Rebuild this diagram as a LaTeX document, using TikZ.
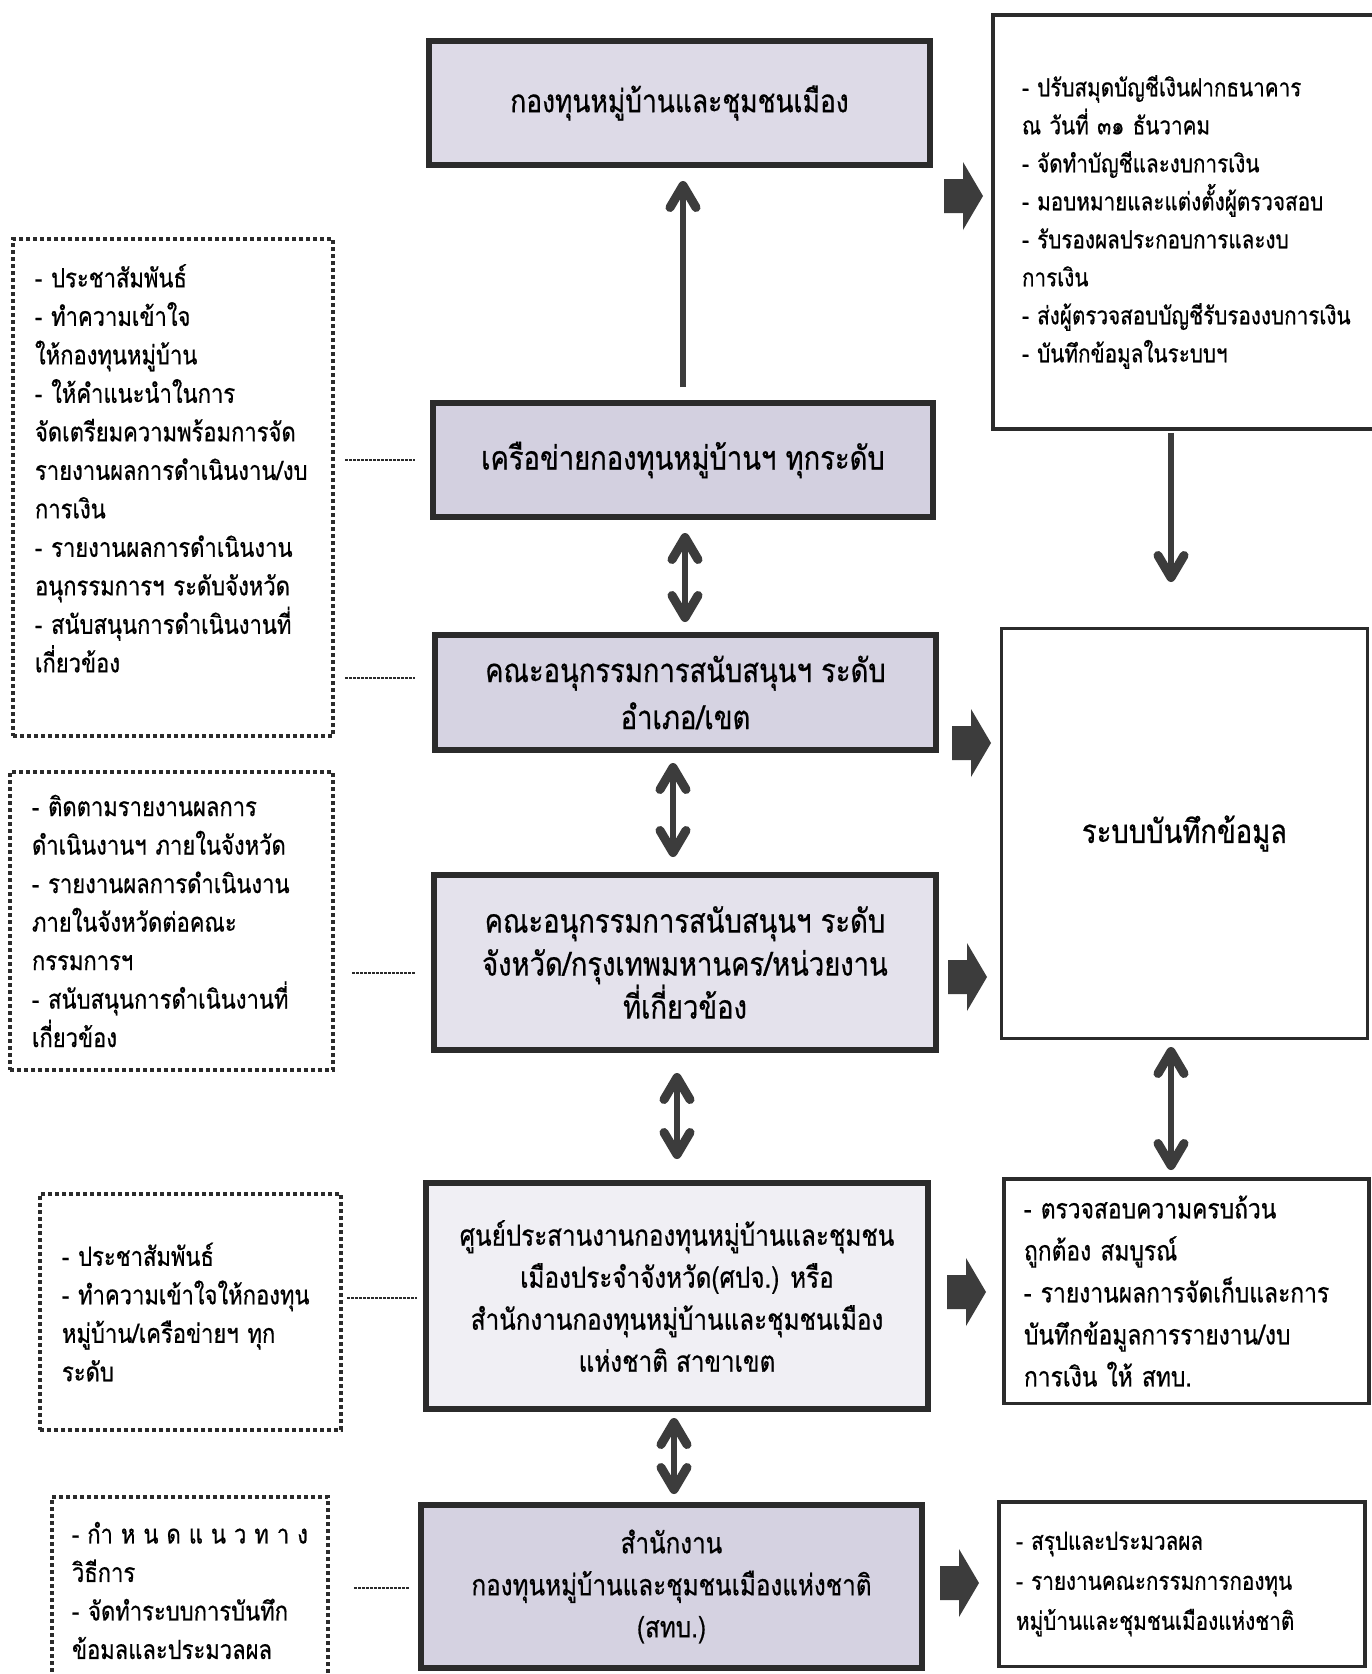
\documentclass[tikz,border=0pt]{standalone}
\usepackage{fontspec}
\setmainfont[Script=Thai, FakeStretch=0.83, FakeBold=0.6]{Loma}
\usetikzlibrary{arrows.meta,calc}
\definecolor{bordc}{HTML}{2B2B2B}
\definecolor{arrc}{HTML}{3C3C3C}
\definecolor{fillA}{HTML}{DDDAE7}
\definecolor{fillB}{HTML}{D3D0E0}
\definecolor{fillC}{HTML}{D6D3E2}
\definecolor{fillD}{HTML}{E4E2EC}
\definecolor{fillE}{HTML}{F0EFF4}
\definecolor{fillF}{HTML}{D5D2E1}
\newcommand\FMain{\fontsize{33}{43}\selectfont}
\newcommand\FMainS{\fontsize{29.2}{42}\selectfont}
\newcommand\FSide{\fontsize{26.5}{38.5}\selectfont}
\newcommand\FRight{\fontsize{24.9}{38}\selectfont}
\newcommand\blkarrow[2]{\fill[arrc] (#1,#2) -- ++(0,-17) -- ++(19,0) -- ++(0,-17) -- ++(20,34) -- ++(-20,34) -- ++(0,-17) -- ++(-19,0) -- cycle;}
\begin{document}
\begin{tikzpicture}[x=1pt,y=-1pt,
  >={Straight Barb[length=22pt, width=26pt, line width=9pt, round]},
  mainbox/.style={draw=bordc, line width=6pt, align=center, font=\FMain, inner sep=0pt},
  rbox/.style={draw=bordc, line width=3.5pt, fill=white, align=left, font=\FRight, inner ysep=0pt},
  dotbox/.style={draw=bordc, line width=4pt, dash pattern=on 4pt off 3pt, fill=white, align=left, font=\FSide, inner ysep=0pt},
  arr/.style={draw=arrc, line width=5.5pt},
  dotconn/.style={draw=bordc, line width=2.5pt, dash pattern=on 2.5pt off 1.5pt}
]
\useasboundingbox (0,0) rectangle (1372,1674);
\fill[white] (0,0) rectangle (1372,1674);

% main column
\node[mainbox, fill=fillA, minimum width=501pt, minimum height=124pt, font=\fontsize{31.8}{43}\selectfont] (b1) at (679.5,103) {กองทุนหมู่บ้านและชุมชนเมือง};
\node[mainbox, fill=fillB, minimum width=500pt, minimum height=114pt] (b2) at (683,460) {เครือข่ายกองทุนหมู่บ้านฯ ทุกระดับ};
\node[mainbox, fill=fillC, minimum width=501pt, minimum height=115pt, font=\fontsize{33}{47}\selectfont] (b3) at (685.5,692.5) {คณะอนุกรรมการสนับสนุนฯ ระดับ\\อำเภอ/เขต};
\node[mainbox, fill=fillD, minimum width=502pt, minimum height=175pt] (b4) at (685,962.5) {คณะอนุกรรมการสนับสนุนฯ ระดับ\\จังหวัด/กรุงเทพมหานคร/หน่วยงาน\\ที่เกี่ยวข้อง};
\node[mainbox, fill=fillE, minimum width=502pt, minimum height=226pt, font=\FMainS] (b5) at (677,1296) {ศูนย์ประสานงานกองทุนหมู่บ้านและชุมชน\\เมืองประจำจังหวัด(ศปจ.) หรือ\\สำนักงานกองทุนหมู่บ้านและชุมชนเมือง\\แห่งชาติ สาขาเขต};
\node[mainbox, fill=fillF, minimum width=501pt, minimum height=163pt, font=\FMainS] (b6) at (671.5,1586.5) {สำนักงาน\\กองทุนหมู่บ้านและชุมชนเมืองแห่งชาติ\\(สทบ.)};

% right column
\node[rbox, minimum height=414pt, text width=347pt, inner xsep=29pt] (r1) at (1195.5,222) {- ปรับสมุดบัญชีเงินฝากธนาคาร\\ณ วันที่ ๓๑ ธันวาคม\\- จัดทำบัญชีและงบการเงิน\\- มอบหมายและแต่งตั้งผู้ตรวจสอบ\\- รับรองผลประกอบการและงบ\\การเงิน\\- ส่งผู้ตรวจสอบบัญชีรับรองงบการเงิน\\- บันทึกข้อมูลในระบบฯ};
\node[draw=bordc, line width=3pt, fill=white, font=\FMain, minimum width=366pt, minimum height=410pt] (big) at (1184.5,833.5) {ระบบบันทึกข้อมูล};
\node[rbox, minimum height=224.5pt, text width=325pt, inner xsep=20pt, font=\fontsize{27.5}{42}\selectfont] (r5) at (1186.5,1291) {- ตรวจสอบความครบถ้วน\\ถูกต้อง สมบูรณ์\\- รายงานผลการจัดเก็บและการ\\บันทึกข้อมูลการรายงาน/งบ\\การเงิน ให้ สทบ.};
\node[rbox, minimum height=164.5pt, text width=332pt, inner xsep=17pt, font=\fontsize{24.9}{40}\selectfont] (r6) at (1182,1584) {- สรุปและประมวลผล\\- รายงานคณะกรรมการกองทุน\\หมู่บ้านและชุมชนเมืองแห่งชาติ};

% left column
\node[dotbox, minimum height=497pt, text width=276pt, inner xsep=22pt] (l1) at (173,487.5) {- ประชาสัมพันธ์\\- ทำความเข้าใจ\\ให้กองทุนหมู่บ้าน\\- ให้คำแนะนำในการ\\จัดเตรียมความพร้อมการจัด\\รายงานผลการดำเนินงาน/งบ\\การเงิน\\- รายงานผลการดำเนินงาน\\อนุกรรมการฯ ระดับจังหวัด\\- สนับสนุนการดำเนินงานที่\\เกี่ยวข้อง\\\mbox{}};
\node[dotbox, minimum height=298pt, text width=279pt, inner xsep=22pt] (l2) at (171.5,921) {- ติดตามรายงานผลการ\\ดำเนินงานฯ ภายในจังหวัด\\- รายงานผลการดำเนินงาน\\ภายในจังหวัดต่อคณะ\\กรรมการฯ\\- สนับสนุนการดำเนินงานที่\\เกี่ยวข้อง};
\node[dotbox, minimum height=236pt, text width=257pt, inner xsep=22pt] (l3) at (190.5,1312) {- ประชาสัมพันธ์\\- ทำความเข้าใจให้กองทุน\\หมู่บ้าน/เครือข่ายฯ ทุก\\ระดับ};
\node[dotbox, minimum height=187pt, text width=236pt, inner xsep=20pt] (l4) at (190,1590.5) {\makebox[\linewidth][s]{-\hfill กำ\hfill ห\hfill น\hfill ด\hfill แ\hfill น\hfill ว\hfill ท\hfill า\hfill ง}\\วิธีการ\\- จัดทำระบบการบันทึก\\ข้อมลและประมวลผล};

% vertical arrows
\draw[arr, ->] ($(b2.north)+(0,-13)$) -- ($(b2.north |- b1.south)+(0,13)$);
\draw[arr, <->] ($(b2.south)+(2,13)$) -- ($(b3.north)+(-0.5,-10)$);
\draw[arr, <->] ($(b3.south)+(-12.5,10)$) -- ($(b4.north)+(-12,-15)$);
\draw[arr, <->] ($(b4.south)+(-8,20)$) -- ($(b5.north)+(0,-21)$);
\draw[arr, <->] ($(b5.south)+(-3,6)$) -- ($(b6.north)+(2.5,-8)$);
\draw[arr, ->] ($(r1.south)+(-24.5,2)$) -- ($(big.north)+(-13.5,-45)$);
\draw[arr, <->] ($(big.south)+(-13.5,7)$) -- ($(r5.north)+(-15.5,-7)$);

% block arrows
\blkarrow{944}{196}
\blkarrow{952}{743}
\blkarrow{948}{977}
\blkarrow{947}{1292}
\blkarrow{940}{1583}

% dotted connectors
\draw[dotconn] ($(l1.east |- b2.west)+(10,0)$) -- ($(b2.west)+(-15,0)$);
\draw[dotconn] ($(l1.east |- b3.west)+(10,-14.5)$) -- ($(b3.west)+(-17,-14.5)$);
\draw[dotconn] ($(l2.east |- b4.west)+(17,10.5)$) -- ($(b4.west)+(-16,10.5)$);
\draw[dotconn] ($(l3.east |- b5.west)+(4,2)$) -- ($(b5.west)+(-6,2)$);
\draw[dotconn] ($(l4.east |- b6.west)+(24,1.5)$) -- ($(b6.west)+(-8,1.5)$);
\end{tikzpicture}
\end{document}
